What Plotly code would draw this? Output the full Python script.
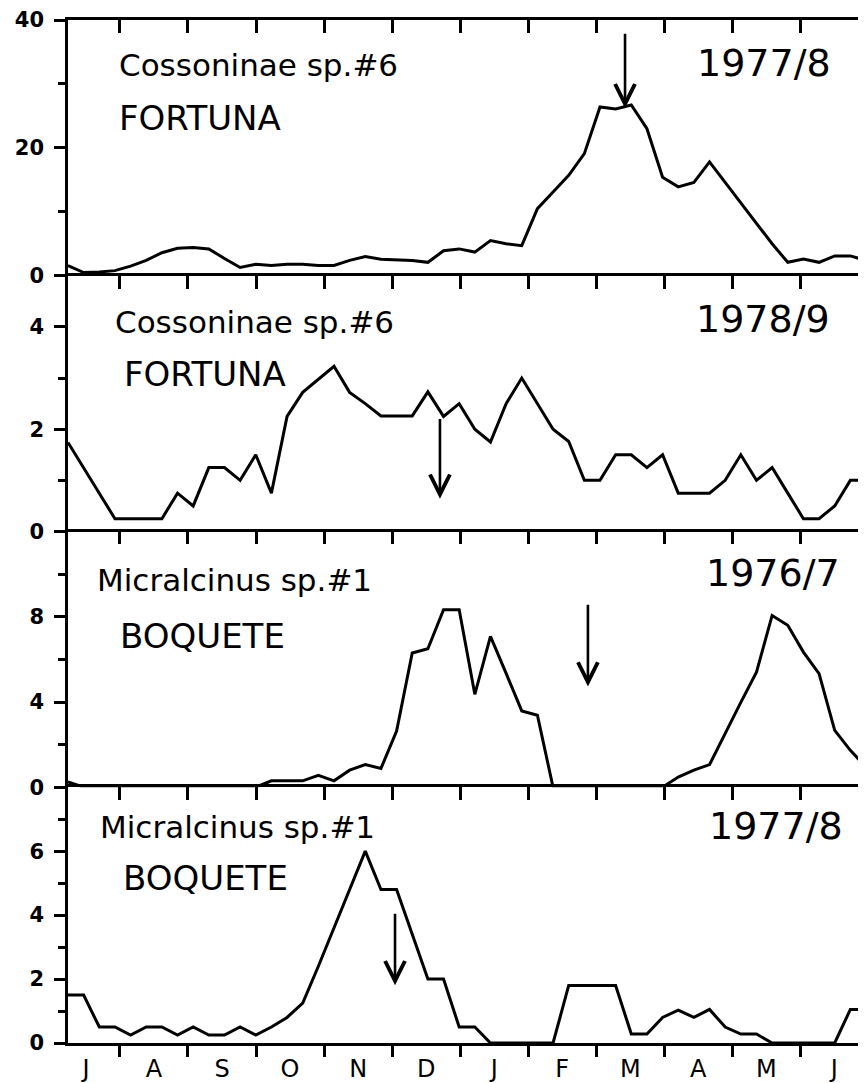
import plotly.graph_objects as go

# ---------------- data ----------------
month_labels = ["J", "A", "S", "O", "N", "D", "J", "F", "M", "A", "M", "J"]
month_length = 30.44            # days, axis months are evenly spaced
first_sample_day = 7.2          # days after 1 July of the first weekly sample
n_weeks = 52

cossoninae_1977 = [1.6, 0.5, 0.6, 0.8, 1.5, 2.4, 3.6, 4.3, 4.4, 4.2,
                   2.7, 1.3, 1.8, 1.6, 1.8, 1.8, 1.6, 1.6, 2.4, 3.0,
                   2.6, 2.5, 2.4, 2.1, 3.9, 4.2, 3.7, 5.5, 5.0, 4.7,
                   10.5, 13.1, 15.7, 19.1, 26.4, 26.1, 26.7, 23.0, 15.4, 13.9,
                   14.6, 17.8, 14.6, 11.4, 8.3, 5.0, 2.1, 2.6, 2.1, 3.1,
                   3.1, 2.4]
cossoninae_1978 = [1.74, 1.24, 0.74, 0.25, 0.25, 0.25, 0.25, 0.75, 0.5, 1.25,
                   1.25, 1.0, 1.5, 0.75, 2.25, 2.72, 2.97, 3.23, 2.72, 2.5,
                   2.26, 2.26, 2.26, 2.73, 2.25, 2.5, 2.0, 1.75, 2.5, 3.0,
                   2.5, 2.0, 1.76, 1.0, 1.0, 1.5, 1.5, 1.25, 1.5, 0.75,
                   0.75, 0.75, 1.0, 1.5, 1.0, 1.25, 0.75, 0.25, 0.25, 0.5,
                   1.0, 1.0]
micralcinus_1976 = [0.25, 0, 0, 0, 0, 0, 0, 0, 0, 0,
                    0, 0, 0, 0.3, 0.3, 0.3, 0.56, 0.3, 0.8, 1.06,
                    0.88, 2.64, 6.3, 6.5, 8.33, 8.33, 4.36, 7.08, 5.34, 3.58,
                    3.38, 0, 0, 0, 0, 0, 0, 0, 0, 0.48,
                    0.8, 1.06, 2.55, 3.98, 5.4, 8.06, 7.6, 6.34, 5.33, 2.67,
                    1.73, 0.95]
micralcinus_1977 = [1.5, 1.5, 0.5, 0.5, 0.25, 0.5, 0.5, 0.25, 0.5, 0.25,
                    0.25, 0.5, 0.25, 0.5, 0.8, 1.25, 2.4, 3.6, 4.8, 6.0,
                    4.8, 4.8, 3.4, 2.0, 2.0, 0.5, 0.5, 0, 0, 0,
                    0, 0, 1.8, 1.8, 1.8, 1.8, 0.28, 0.28, 0.8, 1.03,
                    0.8, 1.05, 0.5, 0.28, 0.28, 0, 0, 0, 0, 0,
                    1.05, 1.05]

series = [cossoninae_1977, cossoninae_1978, micralcinus_1976, micralcinus_1977]
species = ["Cossoninae sp.#6", "Cossoninae sp.#6", "Micralcinus sp.#1", "Micralcinus sp.#1"]
sites = ["FORTUNA", "FORTUNA", "BOQUETE", "BOQUETE"]
seasons = ["1977/8", "1978/9", "1976/7", "1977/8"]
y_max = [40, 5, 12, 8]
y_major = [[0, 20, 40], [0, 2, 4], [0, 4, 8], [0, 2, 4, 6]]
y_minor = [[10, 30], [1, 3], [2, 6, 10], [1, 3, 5, 7]]
arrow_day = [256.4, 173.6, 239.8, 153.5]
arrow_tail = [38.1, 2.23, 8.63, 4.09]
arrow_tip = [26.2, 0.64, 4.73, 1.81]

# ---------------- layout ----------------
days = [first_sample_day + 7 * w for w in range(n_weeks)]
x_range = [days[0], days[-1]]
boundaries = [month_length * k for k in range(1, 12)]
label_pos = [month_length * (k + 0.5) for k in range(12)]

# the page body adds an 8px offset, so the figure is drawn 8px smaller
W, H = 858, 1075
ML, MR, MT, MB = 60, 0, 12, 40
LW = 2.6
BLACK = "black"
TEXT_FONT = "DejaVu Sans"

fig = go.Figure()
layout = dict(width=W, height=H, margin=dict(l=ML, r=MR, t=MT, b=MB, autoexpand=False),
              paper_bgcolor="white", plot_bgcolor="white", showlegend=False)

# species-name / site / season positions (axis-domain fractions per panel)
txt_pos = [
    dict(sp=(0.061, 0.826), site=(0.061, 0.615), yr=(0.786, 0.831)),
    dict(sp=(0.057, 0.820), site=(0.068, 0.617), yr=(0.785, 0.832)),
    dict(sp=(0.034, 0.809), site=(0.063, 0.590), yr=(0.797, 0.836)),
    dict(sp=(0.038, 0.844), site=(0.066, 0.645), yr=(0.801, 0.848)),
]

annotations = []
n = len(series)
for p in range(n):
    k = "" if p == 0 else str(p + 1)
    fig.add_trace(go.Scatter(x=days, y=series[p], mode="lines",
                             line=dict(color=BLACK, width=3),
                             xaxis="x" + k, yaxis="y" + k, hoverinfo="skip"))
    lo = 1 - (p + 1) / n
    hi = 1 - p / n
    layout["xaxis" + k] = dict(
        domain=[0, 1], anchor="y" + k, side="top", range=x_range,
        showgrid=False, zeroline=False, showline=True, mirror=(p == n - 1),
        linecolor=BLACK, linewidth=LW, automargin=False,
        tickvals=boundaries, ticks="inside", ticklen=13, tickwidth=LW,
        tickcolor=BLACK, showticklabels=False)
    layout["yaxis" + k] = dict(
        domain=[lo, hi], anchor="x" + k, range=[0, y_max[p]],
        showgrid=False, zeroline=False, showline=True, mirror=False,
        linecolor=BLACK, linewidth=LW, automargin=False,
        tickvals=y_major[p], ticks="outside", ticklen=11, tickwidth=LW,
        tickcolor=BLACK, ticklabelstandoff=6,
        tickfont=dict(family="DejaVu Sans", size=21, color=BLACK, weight="bold"),
        minor=dict(tickvals=y_minor[p], ticks="outside", ticklen=7,
                   tickwidth=LW, tickcolor=BLACK))

    sp_x, sp_y = txt_pos[p]["sp"]
    si_x, si_y = txt_pos[p]["site"]
    yr_x, yr_y = txt_pos[p]["yr"]
    common = dict(xref="x%s domain" % k, yref="y%s domain" % k,
                  showarrow=False, xanchor="left", yanchor="middle")
    annotations.append(dict(text=species[p], x=sp_x, y=sp_y,
                            font=dict(family=TEXT_FONT, size=31, color=BLACK), **common))
    annotations.append(dict(text=sites[p], x=si_x, y=si_y,
                            font=dict(family=TEXT_FONT, size=34, color=BLACK), **common))
    annotations.append(dict(text=seasons[p], x=yr_x, y=yr_y,
                            font=dict(family=TEXT_FONT, size=38, color=BLACK), **common))
    annotations.append(dict(text="", x=arrow_day[p], y=arrow_tip[p],
                            ax=arrow_day[p], ay=arrow_tail[p],
                            xref="x" + k, yref="y" + k, axref="x" + k, ayref="y" + k,
                            showarrow=True, arrowhead=5, arrowsize=1.5,
                            arrowwidth=2.6, arrowcolor=BLACK, standoff=0,
                            startstandoff=0))

# bottom month axis (labels between month ticks)
layout["xaxis5"] = dict(
    overlaying="x4", anchor="y4", side="bottom", range=x_range,
    showgrid=False, zeroline=False, showline=False, automargin=False,
    tickvals=label_pos, ticktext=month_labels,
    ticks="outside", ticklen=4, tickcolor="rgba(0,0,0,0)",
    tickfont=dict(family=TEXT_FONT, size=24, color=BLACK),
    minor=dict(tickvals=boundaries, ticks="outside", ticklen=13,
               tickwidth=LW, tickcolor=BLACK))
fig.add_trace(go.Scatter(x=[days[0]], y=[0], mode="markers", opacity=0,
                         xaxis="x5", yaxis="y4", hoverinfo="skip"))

layout["annotations"] = annotations
fig.update_layout(**layout)
fig.write_html("out.html")
